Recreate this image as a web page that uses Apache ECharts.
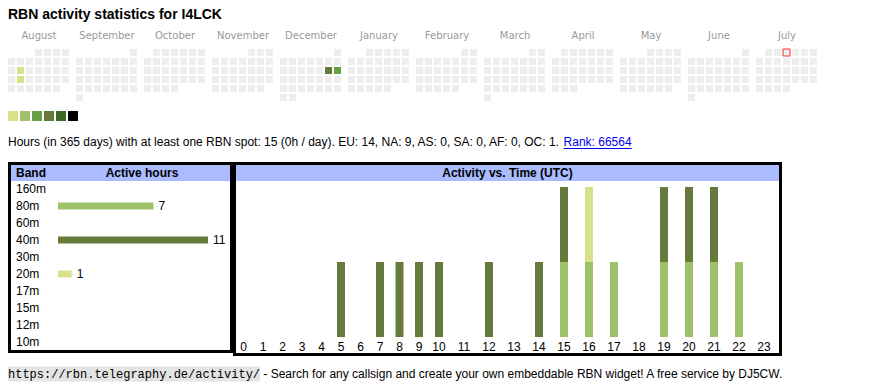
<!DOCTYPE html>
<html>
<head>
<meta charset="utf-8">
<script src="https://cdn.jsdelivr.net/npm/echarts@6/dist/echarts.min.js"></script>
<style>
html,body{margin:0;padding:0;background:#fff;}
#chart{width:870px;height:390px;}
</style>
</head>
<body>
<div id="chart"></div>
<script>
// ---------- data ----------
const titleText = 'RBN activity statistics for I4LCK';
const months = ['2024-08','2024-09','2024-10','2024-11','2024-12','2025-01','2025-02','2025-03','2025-04','2025-05','2025-06','2025-07'];
const monthNames = ['August','September','October','November','December','January','February','March','April','May','June','July'];
const activeDays = ['2024-08-13','2024-08-20','2024-12-14','2024-12-15'];
const activeDayHours = [1, 1, 7, 6];
const today = '2025-07-03';
const levelColors = ['#d9e08a','#9ec16c','#67a045','#667a3b','#3b6a26','#000000'];
const levelMin = [1, 3, 5, 7, 9, 11];
const levelMax = [2, 4, 6, 8, 10, 999];

const summaryText = 'Hours (in 365 days) with at least one RBN spot: 15 (0h / day). EU: 14, NA: 9, AS: 0, SA: 0, AF: 0, OC: 1. ';
const rankText = 'Rank: 66564';
const footerUrl = 'https://rbn.telegraphy.de/activity/';
const footerText = ' - Search for any callsign and create your own embeddable RBN widget! A free service by DJ5CW.';

const bands = ['160m','80m','60m','40m','30m','20m','17m','15m','12m','10m'];
const bandHours = [0, 7, 0, 11, 0, 1, 0, 0, 0, 0];
const bandColors = ['#3b6a26','#9ec16c','#67a045','#667a3b','#000000','#d9e08a','#9ec16c','#67a045','#667a3b','#3b6a26'];

const hours = ['0','1','2','3','4','5','6','7','8','9','10','11','12','13','14','15','16','17','18','19','20','21','22','23'];
const hour80m = [0,0,0,0,0,0,0,0,0,0,0,0,0,0,0,1,1,1,0,1,1,1,1,0];
const hour40m = [0,0,0,0,0,1,0,1,1,1,1,0,1,0,1,1,0,0,0,1,1,1,0,0];
const hour20m = [0,0,0,0,0,0,0,0,0,0,0,0,0,0,0,0,1,0,0,0,0,0,0,0];

// ---------- chart ----------
const SANS = '"Liberation Sans", Arial, sans-serif';
const chart = echarts.init(document.getElementById('chart'), null, {renderer: 'svg'});

const calendars = months.map((m, i) => ({
  orient: 'vertical', range: m, left: 7 + 68 * i, top: 48, cellSize: [9, 9],
  splitLine: {show: false},
  itemStyle: {color: '#eeeeee', borderColor: '#ffffff', borderWidth: 2},
  dayLabel: {show: false, firstDay: 1}, monthLabel: {show: false}, yearLabel: {show: false}
}));

const series = [];
const heatIdx = [];
months.forEach((m, i) => {
  const d = [];
  activeDays.forEach((day, k) => { if (day.slice(0, 7) === m) d.push([day, activeDayHours[k]]); });
  heatIdx.push(series.length);
  series.push({
    type: 'heatmap', coordinateSystem: 'calendar', calendarIndex: i, data: d,
    itemStyle: {borderWidth: 0}, silent: true
  });
});
series.push({
  type: 'scatter', coordinateSystem: 'calendar', calendarIndex: months.indexOf(today.slice(0, 7)),
  data: [[today, 0]], symbol: 'rect', symbolSize: 7, silent: true,
  itemStyle: {color: '#eeeeee', borderColor: '#ff0000', borderWidth: 1}
});

// band chart
series.push({
  type: 'bar', xAxisIndex: 0, yAxisIndex: 0, barWidth: 7, silent: true,
  data: bandHours.map((v, i) => ({value: v, itemStyle: {color: bandColors[i]}})),
  label: {show: true, position: 'right', distance: 5, color: '#000', fontSize: 12, fontFamily: SANS,
    formatter: p => (p.value > 0 ? String(p.value) : '')}
});

// hour chart: two grids (single-digit columns narrower than two-digit ones)
const hourSeries = [['80m', hour80m, '#9ec16c'], ['40m', hour40m, '#667a3b'], ['20m', hour20m, '#d9e08a']];
[[0, 10, 1], [10, 24, 2]].forEach(([a, b, gi]) => {
  hourSeries.forEach(([name, arr, col]) => {
    series.push({
      type: 'bar', name: name, xAxisIndex: gi, yAxisIndex: gi, stack: 'h' + gi, barWidth: 8, silent: true,
      itemStyle: {color: col}, data: arr.slice(a, b)
    });
  });
});

// text measurement for the link underline
const mctx = document.createElement('canvas').getContext('2d');
mctx.font = '12px ' + SANS;
const sumW = mctx.measureText(summaryText).width;
const rankW = mctx.measureText(rankText).width;

const graphics = [];
monthNames.forEach((n, i) => {
  graphics.push({type: 'text', x: 7 + 68 * i + 32, y: 35, silent: true,
    style: {text: n, font: '10px "DejaVu Sans", sans-serif', fill: '#999999', align: 'center', verticalAlign: 'middle'}});
});
graphics.push({type: 'text', x: 8, y: 142, silent: true,
  style: {text: summaryText, font: '12px ' + SANS, fill: '#000', align: 'left', verticalAlign: 'middle'}});
graphics.push({type: 'text', x: 8 + sumW, y: 142, silent: true,
  style: {text: rankText, font: '12px ' + SANS, fill: '#0000ee', align: 'left', verticalAlign: 'middle'}});
graphics.push({type: 'line', silent: true, shape: {x1: 8 + sumW, y1: 148.5, x2: 8 + sumW + rankW, y2: 148.5},
  style: {stroke: '#0000ee', lineWidth: 1}});
// table headers and frames
graphics.push({type: 'rect', silent: true, shape: {x: 11, y: 165, width: 219, height: 16}, style: {fill: '#aabbff'}});
graphics.push({type: 'rect', silent: true, shape: {x: 236, y: 165, width: 543, height: 16}, style: {fill: '#aabbff'}});
graphics.push({type: 'rect', silent: true, shape: {x: 9.5, y: 163.5, width: 222, height: 188}, style: {fill: 'none', stroke: '#000', lineWidth: 3}});
graphics.push({type: 'rect', silent: true, shape: {x: 234.5, y: 163.5, width: 546, height: 191}, style: {fill: 'none', stroke: '#000', lineWidth: 3}});
graphics.push({type: 'text', x: 16, y: 173, silent: true,
  style: {text: 'Band', font: 'bold 12px ' + SANS, fill: '#000', align: 'left', verticalAlign: 'middle'}});
graphics.push({type: 'text', x: 142, y: 173, silent: true,
  style: {text: 'Active hours', font: 'bold 12px ' + SANS, fill: '#000', align: 'center', verticalAlign: 'middle'}});
graphics.push({type: 'text', x: 507.5, y: 173, silent: true,
  style: {text: 'Activity vs. Time (UTC)', font: 'bold 12px ' + SANS, fill: '#000', align: 'center', verticalAlign: 'middle'}});
// footer
graphics.push({type: 'text', x: 8, y: 374, silent: true,
  style: {text: '{u|' + footerUrl + '}{t|' + footerText + '}', align: 'left', verticalAlign: 'middle',
    rich: {
      u: {fontFamily: '"Liberation Mono", monospace', fontSize: 12, color: '#333', backgroundColor: '#e4e4e4', padding: [2, 0, 1, 0]},
      t: {fontFamily: SANS, fontSize: 12, color: '#000'}
    }}});

const option = {
  animation: false,
  title: {text: titleText, left: 8, top: 7, padding: 0,
    textStyle: {fontFamily: SANS, fontSize: 14, fontWeight: 'bold', color: '#000'}},
  calendar: calendars,
  visualMap: {
    type: 'piecewise', seriesIndex: heatIdx, orient: 'horizontal', left: 8, top: 111, padding: 0,
    itemWidth: 10, itemHeight: 10, itemGap: 2, itemSymbol: 'rect', showLabel: false, selectedMode: false,
    pieces: levelColors.map((c, i) => ({min: levelMin[i], max: levelMax[i], color: c}))
  },
  grid: [
    {left: 58, width: 150, top: 180.5, height: 170},
    {left: 233.75, width: 195, top: 187, height: 150},
    {left: 426.5, width: 350, top: 187, height: 150}
  ],
  xAxis: [
    {type: 'value', gridIndex: 0, min: 0, max: 11, show: false},
    {type: 'category', gridIndex: 1, data: hours.slice(0, 10), axisLine: {show: false}, axisTick: {show: false},
      axisLabel: {margin: 4, color: '#000', fontSize: 12, fontFamily: SANS, interval: 0}},
    {type: 'category', gridIndex: 2, data: hours.slice(10), axisLine: {show: false}, axisTick: {show: false},
      axisLabel: {margin: 4, color: '#000', fontSize: 12, fontFamily: SANS, interval: 0}}
  ],
  yAxis: [
    {type: 'category', gridIndex: 0, data: bands, inverse: true, axisLine: {show: false}, axisTick: {show: false},
      axisLabel: {margin: 42, align: 'left', color: '#000', fontSize: 12, fontFamily: SANS}},
    {type: 'value', gridIndex: 1, min: 0, max: 2, show: false},
    {type: 'value', gridIndex: 2, min: 0, max: 2, show: false}
  ],
  graphic: graphics,
  series: series
};
chart.setOption(option);
</script>
</body>
</html>
